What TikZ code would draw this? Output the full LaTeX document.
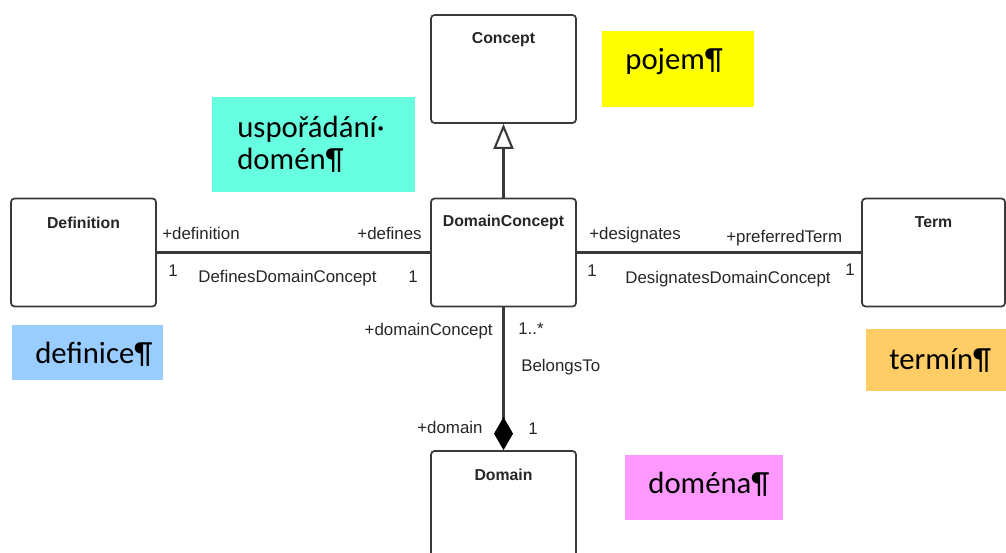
\documentclass[tikz,border=0pt]{standalone}
\usepackage{fontspec}
\setmainfont{Liberation Sans}
\newfontfamily\notefont{Carlito}
\usetikzlibrary{arrows.meta, positioning, calc}

\definecolor{lineclr}{HTML}{3A3A3A}
\definecolor{noteteal}{HTML}{66FFE0}
\definecolor{noteyellow}{HTML}{FFFF00}
\definecolor{noteblue}{HTML}{99CCFF}
\definecolor{noteorange}{HTML}{FFCC66}
\definecolor{notepink}{HTML}{FF99FF}

\begin{document}
\begin{tikzpicture}[x=0.02cm, y=-0.02cm, line join=round,
    umlclass/.style={draw=lineclr, line width=1pt, rounded corners=2pt, fill=white,
      minimum width=2.9cm, minimum height=2.16cm, inner sep=0pt},
    classname/.style={font=\fontsize{9}{11}\selectfont\bfseries, text=black!85, inner sep=0pt},
    role/.style={font=\fontsize{9.6}{11}\selectfont, text=black!85, inner sep=0pt,
      text height=7pt, text depth=2pt},
    assoc/.style={draw=lineclr, line width=1.2pt},
    notebox/.style={inner sep=0pt, anchor=north west},
    notetext/.style={font=\notefont\fontsize{17.5}{18}\selectfont, inner sep=0pt, anchor=base west}]
    \useasboundingbox (0,0) rectangle (1006,553);
    % classes
    \node[umlclass, label={[classname, anchor=center, yshift=-0.5cm]north:Concept}] (concept) at (503.5,69) {};
    \node[umlclass, label={[classname, anchor=center, yshift=-0.5cm]north:DomainConcept}] (domconcept) at (503.5,252.5) {};
    \node[umlclass, label={[classname, anchor=center, yshift=-0.5cm]north:Definition}] (definition) at (83.5,252.5) {};
    \node[umlclass, minimum width=2.86cm, label={[classname, anchor=center, yshift=-0.5cm]north:Term}] (term) at (933.5,252.5) {};
    \node[umlclass, label={[classname, anchor=center, yshift=-0.5cm]north:Domain}] (domain) at (503.5,505) {};
    % connectors
    \draw[assoc, -{Triangle[open, length=0.5cm, width=0.4cm, fill=white]}] (domconcept) -- (concept);
    \draw[assoc] (definition) -- (domconcept);
    \draw[assoc] (domconcept) -- (term);
    \draw[assoc, -{Diamond[length=0.66cm, width=0.38cm, color=black, fill=black]}] (domconcept) -- (domain);
    % roles and multiplicities
    \node[role, anchor=west] (rdefinition) at (162,235) {+definition};
    \node[role, anchor=east] (rdefines) at (422,235) {+defines};
    \node[role, anchor=west] (mdefinition) at (168,272) {1};
    \node[role, anchor=west] (adefines) at (198,278) {DefinesDomainConcept};
    \node[role, anchor=east] (mdefines) at (418,278) {1};
    \node[role, anchor=west] (rdesignates) at (589,235) {+designates};
    \node[role, anchor=west] (rpreferred) at (726,238) {+preferredTerm};
    \node[role, anchor=west] (mdesignates) at (587,272) {1};
    \node[role, anchor=west] (adesignates) at (625,279) {DesignatesDomainConcept};
    \node[role, anchor=west] (mterm) at (845,271) {1};
    \node[role, anchor=east] (rdomconcept) at (493,331) {+domainConcept};
    \node[role, anchor=west] (mdomconcept) at (518,330) {1..*};
    \node[role, anchor=west] (abelongs) at (521,367) {BelongsTo};
    \node[role, anchor=west] (rdomain) at (417,429) {+domain};
    \node[role, anchor=west] (mdomain) at (528,430) {1};
    % notes
    \node[notebox, fill=noteteal, minimum width=4.06cm, minimum height=1.9cm] (nteal) at (212,97) {};
    \node[notetext] (tteal) at (237,138) {uspořádání·};
    \node[notetext] (tteal2) at (237,170) {domén¶};
    \node[notebox, fill=noteyellow, minimum width=3.04cm, minimum height=1.52cm] (nyellow) at (602,31) {};
    \node[notetext] (tyellow) at (625,70) {pojem¶};
    \node[notebox, fill=noteblue, minimum width=3.02cm, minimum height=1.1cm] (nblue) at (12,325) {};
    \node[notetext] (tblue) at (35,363) {definice¶};
    \node[notebox, fill=noteorange, minimum width=2.8cm, minimum height=1.24cm] (norange) at (866,329) {};
    \node[notetext] (torange) at (889,369) {termín¶};
    \node[notebox, fill=notepink, minimum width=3.16cm, minimum height=1.3cm] (npink) at (625,455) {};
    \node[notetext] (tpink) at (648,493) {doména¶};
\end{tikzpicture}
\end{document}
